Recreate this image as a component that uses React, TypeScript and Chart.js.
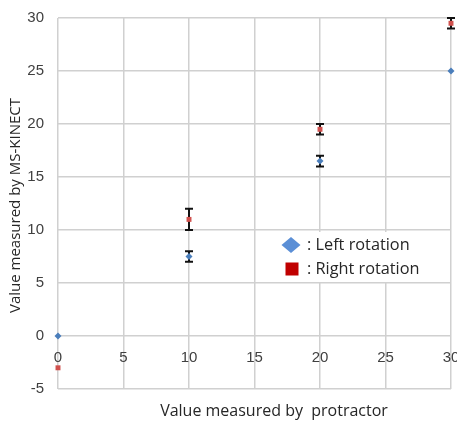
import { useEffect, useRef } from "react";
import { Chart, registerables } from "chart.js";

Chart.register(...registerables);

// Angle readings: protractor (x) against MS-KINECT (y)
const protractorDeg = [0, 10, 20, 30];
const leftRotation = [0, 7.5, 16.5, 25];
const rightRotation = [-3, 11, 19.5, 29.5];

// Error bar ranges (null = no bar)
const leftLow = [null, 7, 16, null];
const leftHigh = [null, 8, 17, null];
const rightLow = [null, 10, 19, 29];
const rightHigh = [null, 12, 20, 30];

const seriesNames = ["Left rotation", "Right rotation"];
const xTicks = { min: 0, max: 30, step: 5 };
const yTicks = { min: -5, max: 30, step: 5 };
const xTitle = "Value measured by  protractor";
const yTitle = "Value measured by MS-KINECT";

const FONT = "'Open Sans', 'Liberation Sans', sans-serif";
const TICK_FONT = "'Liberation Sans', 'DejaVu Sans', sans-serif";
const TEXT = "#404040";
const GRID = "#d0d0d0";

const errorBars = {
  id: "errorBars",
  beforeDatasetsDraw(chart: any) {
    const { ctx } = chart;
    const xs = chart.scales.x;
    const ys = chart.scales.y;
    chart.data.datasets.forEach((ds: any) => {
      const lo: (number | null)[] = ds.errorLow || [];
      const hi: (number | null)[] = ds.errorHigh || [];
      ds.data.forEach((p: any, i: number) => {
        if (lo[i] == null || hi[i] == null) return;
        const x = xs.getPixelForValue(p.x);
        const y1 = ys.getPixelForValue(lo[i]);
        const y2 = ys.getPixelForValue(hi[i]);
        ctx.save();
        ctx.strokeStyle = "#111111";
        ctx.lineWidth = 2;
        ctx.beginPath();
        ctx.moveTo(x, y1);
        ctx.lineTo(x, y2);
        ctx.moveTo(x - 4, y1);
        ctx.lineTo(x + 4, y1);
        ctx.moveTo(x - 4, y2);
        ctx.lineTo(x + 4, y2);
        ctx.stroke();
        ctx.restore();
      });
    });
  },
};

const floatingLegend = {
  id: "floatingLegend",
  afterDatasetsDraw(chart: any) {
    const { ctx } = chart;
    ctx.save();
    ctx.fillStyle = "#ffffff";
    ctx.fillRect(274, 232, 156, 50);
    // diamond marker
    ctx.fillStyle = "#5b8fd6";
    ctx.beginPath();
    ctx.moveTo(291, 237);
    ctx.lineTo(300.5, 245);
    ctx.lineTo(291, 253);
    ctx.lineTo(281.5, 245);
    ctx.closePath();
    ctx.fill();
    // square marker
    ctx.fillStyle = "#c00000";
    ctx.fillRect(285.5, 262.5, 13, 13);
    ctx.fillStyle = "#262626";
    ctx.font = `16.3px ${FONT}`;
    ctx.textBaseline = "middle";
    ctx.textAlign = "left";
    ctx.fillText(": " + seriesNames[0], 307, 245);
    ctx.fillText(": " + seriesNames[1], 307, 269);
    ctx.restore();
  },
};

const axisTitles = {
  id: "axisTitles",
  afterDraw(chart: any) {
    const { ctx, chartArea } = chart;
    ctx.save();
    ctx.fillStyle = "#262626";
    ctx.textAlign = "center";
    ctx.textBaseline = "middle";
    ctx.font = `16px ${FONT}`;
    ctx.fillText(xTitle, 274, 411);
    ctx.font = `15px ${FONT}`;
    ctx.translate(16, (chartArea.top + chartArea.bottom) / 2 + 2);
    ctx.rotate(-Math.PI / 2);
    ctx.fillText(yTitle, 0, 0);
    ctx.restore();
  },
};

export default function App() {
  const ref = useRef<HTMLCanvasElement>(null);

  useEffect(() => {
    const canvas = ref.current;
    if (!canvas) return;
    const toPoints = (ys: number[]) => protractorDeg.map((x, i) => ({ x, y: ys[i] }));
    const chart = new Chart(canvas, {
      type: "scatter",
      data: {
        datasets: [
          {
            label: seriesNames[0],
            data: toPoints(leftRotation),
            pointStyle: "rectRot",
            pointRadius: 3.5,
            backgroundColor: "#4a7ebb",
            borderColor: "#4a7ebb",
            borderWidth: 0,
            clip: false,
            errorLow: leftLow,
            errorHigh: leftHigh,
          } as any,
          {
            label: seriesNames[1],
            data: toPoints(rightRotation),
            pointStyle: "rect",
            pointRadius: 3.5,
            backgroundColor: "#d0504d",
            borderColor: "#d0504d",
            borderWidth: 0,
            clip: false,
            errorLow: rightLow,
            errorHigh: rightHigh,
          } as any,
        ],
      },
      options: {
        responsive: false,
        animation: false,
        layout: { padding: { left: 0, top: 18, right: 6, bottom: 33 } },
        plugins: {
          legend: { display: false },
          tooltip: { enabled: false },
        },
        scales: {
          x: {
            type: "linear",
            position: { y: 0 } as any,
            min: xTicks.min,
            max: xTicks.max,
            border: { display: false },
            grid: { color: GRID, lineWidth: 1.5, drawTicks: false },
            ticks: {
              stepSize: xTicks.step,
              padding: 13,
              color: TEXT,
              font: { family: TICK_FONT, size: 15 },
              maxRotation: 0,
            },
            afterFit(scale: any) {
              scale.paddingLeft = 0;
              scale.paddingRight = 0;
            },
          },
          y: {
            type: "linear",
            position: "left",
            min: yTicks.min,
            max: yTicks.max,
            border: { display: false },
            grid: { color: GRID, lineWidth: 1.5, drawTicks: false },
            ticks: {
              stepSize: yTicks.step,
              padding: 14,
              color: TEXT,
              font: { family: TICK_FONT, size: 15 },
            },
            afterFit(scale: any) {
              scale.width = 58;
              scale.paddingTop = 0;
              scale.paddingBottom = 0;
            },
          },
        },
      },
      plugins: [errorBars, floatingLegend, axisTitles],
    });
    return () => chart.destroy();
  }, []);

  return (
    <div style={{ position: "absolute", left: 0, top: 0, width: 457, height: 422, background: "#fff" }}>
      <canvas ref={ref} width={457} height={422} />
    </div>
  );
}
